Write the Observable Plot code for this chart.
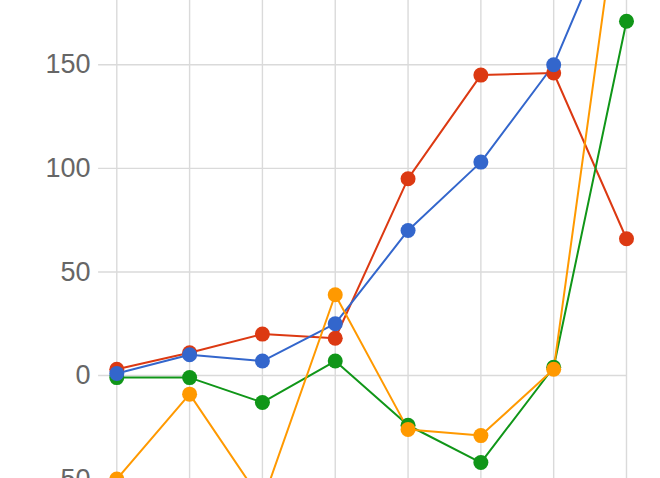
<!DOCTYPE html>
<html>
<head>
<meta charset="utf-8">
<script src="https://cdn.jsdelivr.net/npm/d3@7"></script>
<script src="https://cdn.jsdelivr.net/npm/@observablehq/plot@0.6"></script>
<style>
  html, body { margin: 0; padding: 0; background: #fff; overflow: hidden; }
  #chart svg { display: block; }
</style>
</head>
<body>
<div id="chart"></div>
<script>
const categories = [0, 1, 2, 3, 4, 5, 6, 7];
const seriesNames = ["Series 1", "Series 2", "Series 3", "Series 4"];
const series1Values = [3, 11, 20, 18, 95, 145, 146, 66];
const series2Values = [-1, -1, -13, 7, -24, -42, 4, 171];
const series3Values = [1, 10, 7, 25, 70, 103, 150, 233];
const series4Values = [-50, -9, -61, 39, -26, -29, 3, 257];
const seriesColors = ["#dc3912", "#109618", "#3366cc", "#ff9900"];
const yTicks = [-50, 0, 50, 100, 150];

const valuesBySeries = [series1Values, series2Values, series3Values, series4Values];
const data = [];
seriesNames.forEach((s, i) => {
  categories.forEach((c, j) => data.push({series: s, x: c, y: valuesBySeries[i][j]}));
});

const W = 660, H = 478;
const chart = Plot.plot({
  width: W,
  height: H,
  marginTop: 0, marginBottom: 0, marginLeft: 0, marginRight: 0,
  style: {background: "#fff", overflow: "hidden"},
  x: {domain: [-1.597, 7.467], axis: null},
  y: {domain: [-49.7, 181.0], axis: null},
  color: {type: "ordinal", domain: seriesNames, range: seriesColors},
  marks: [
    Plot.ruleY(yTicks, {x1: -0.25, x2: 7, stroke: "#dadada", strokeWidth: 1.4}),
    Plot.ruleX(categories, {stroke: "#dadada", strokeWidth: 1.4}),
    Plot.text(yTicks, {x: -0.25, y: d => d, text: d => String(d), textAnchor: "end", dx: -8,
      fontSize: 27, fill: "#666", fontFamily: "Liberation Sans, Arial, sans-serif"}),
    Plot.line(data, {x: "x", y: "y", z: "series", stroke: "series", strokeWidth: 2, clip: true}),
    Plot.dot(data, {x: "x", y: "y", fill: "series", r: 7.5, clip: true})
  ]
});
document.getElementById("chart").appendChild(chart);
</script>
</body>
</html>
